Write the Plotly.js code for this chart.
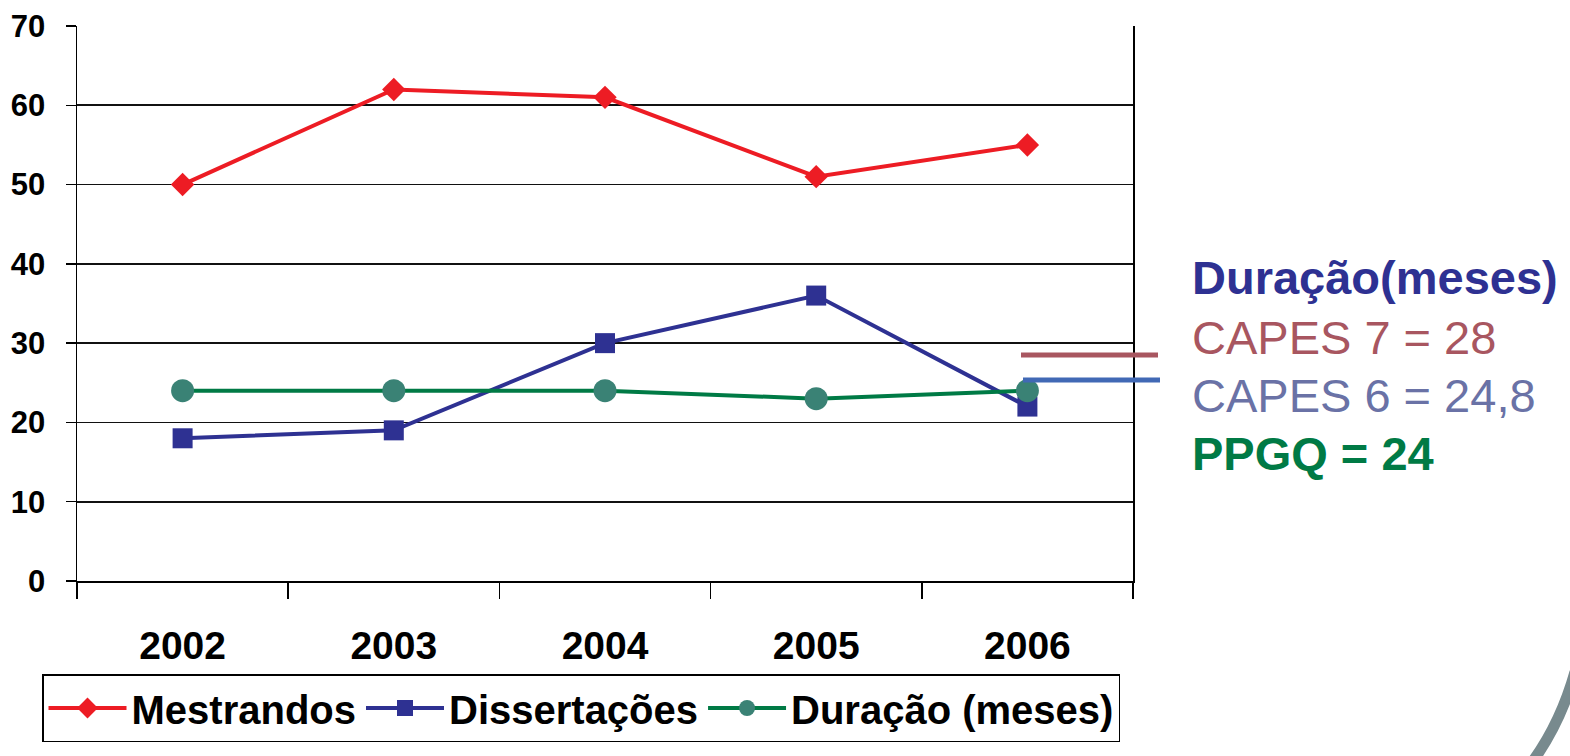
<!DOCTYPE html>
<html>
<head>
<meta charset="utf-8">
<script src="https://cdn.plot.ly/plotly-3.0.1.min.js"></script>
<style>
html,body{margin:0;padding:0;background:#fff;}
#chart{width:1570px;height:756px;}
</style>
</head>
<body>
<div id="chart"></div>
<script>
const years = ['2002', '2003', '2004', '2005', '2006'];
const mestrandos = [50, 62, 61, 51, 55];
const dissertacoes = [18, 19, 30, 36, 22];
const duracao = [24, 24, 24, 23, 24];
const seriesNames = ['Mestrandos', 'Dissertações', 'Duração (meses)'];
const noteLines = ['Duração(meses)', 'CAPES 7 = 28', 'CAPES 6 = 24,8', 'PPGQ = 24'];

const FONT = 'Liberation Sans, Arial, Helvetica, sans-serif';

const traces = [
  {x: years, y: mestrandos, name: seriesNames[0], type: 'scatter', mode: 'lines+markers',
   line: {color: '#ED1C24', width: 4}, marker: {symbol: 'diamond', size: 18, color: '#ED1C24'}},
  {x: years, y: dissertacoes, name: seriesNames[1], type: 'scatter', mode: 'lines+markers',
   line: {color: '#2E3192', width: 4}, marker: {symbol: 'square', size: 20, color: '#2E3192'}},
  {x: years, y: duracao, name: seriesNames[2], type: 'scatter', mode: 'lines+markers',
   line: {color: '#007A45', width: 4}, marker: {symbol: 'circle', size: 23, color: '#3A8275'}}
];

// pixel helpers for decorative (non-data) elements, relative to plot area
const W = 1570, H = 756;
const L = 77, R = 1133, T = 26, B = 581;
const px = v => (v - L) / (R - L);
const py = v => (B - v) / (B - T);

const noteColors = ['#2E3192', '#A85660', '#6A72A6', '#007A45'];
const noteWeights = ['bold', 'normal', 'normal', 'bold'];
const noteY = [277, 337, 395, 453];

const annotations = noteLines.map((t, i) => ({
  text: t, xref: 'paper', yref: 'paper', x: px(1190), y: py(noteY[i]),
  xanchor: 'left', yanchor: 'middle', showarrow: false,
  font: {family: FONT, size: 47, color: noteColors[i], weight: noteWeights[i]}
}));

const shapes = [
  {type: 'line', xref: 'paper', yref: 'paper', x0: px(1021), x1: px(1158), y0: py(355), y1: py(355),
   line: {color: '#A85660', width: 5}},
  {type: 'line', xref: 'paper', yref: 'paper', x0: px(1023), x1: px(1160), y0: py(380), y1: py(380),
   line: {color: '#4169B5', width: 5}},
  {type: 'path', xref: 'paper', yref: 'paper',
   path: `M ${px(1575)} ${py(672)} Q ${px(1560)} ${py(725)} ${px(1530)} ${py(765)}`,
   line: {color: '#788A8E', width: 11}}
];

const layout = {
  width: W, height: H,
  margin: {l: L, r: W - R, t: T, b: H - B},
  paper_bgcolor: '#fff', plot_bgcolor: '#fff',
  font: {family: FONT, color: '#000'},
  xaxis: {
    type: 'category', range: [-0.5, 4.5], showgrid: false, zeroline: false,
    showline: true, linecolor: '#000', linewidth: 1.5,
    ticks: 'outside', tickson: 'boundaries', ticklen: 16, tickwidth: 1.5, tickcolor: '#000',
    tickfont: {family: FONT, size: 39, weight: 'bold', color: '#000'},
    ticklabelstandoff: 30, fixedrange: true, automargin: false
  },
  yaxis: {
    range: [0, 70], dtick: 10, tick0: 0, showgrid: true, gridcolor: '#111', gridwidth: 1.6,
    zeroline: false, showline: true, mirror: true, linecolor: '#000', linewidth: 1.5,
    ticks: 'outside', ticklen: 10, tickwidth: 1.5, tickcolor: '#000',
    tickfont: {family: FONT, size: 31, weight: 'bold', color: '#000'},
    ticklabelstandoff: 14, fixedrange: true, automargin: false
  },
  showlegend: true,
  legend: {
    orientation: 'h', x: px(42), y: py(674), xanchor: 'left', yanchor: 'top',
    bordercolor: '#000', borderwidth: 1.5, bgcolor: '#fff',
    font: {family: FONT, size: 40, weight: 'bold', color: '#000'},
    itemwidth: 78, traceorder: 'normal'
  },
  annotations: annotations,
  shapes: shapes
};

Plotly.newPlot('chart', traces, layout, {displayModeBar: false, staticPlot: true});
</script>
</body>
</html>
